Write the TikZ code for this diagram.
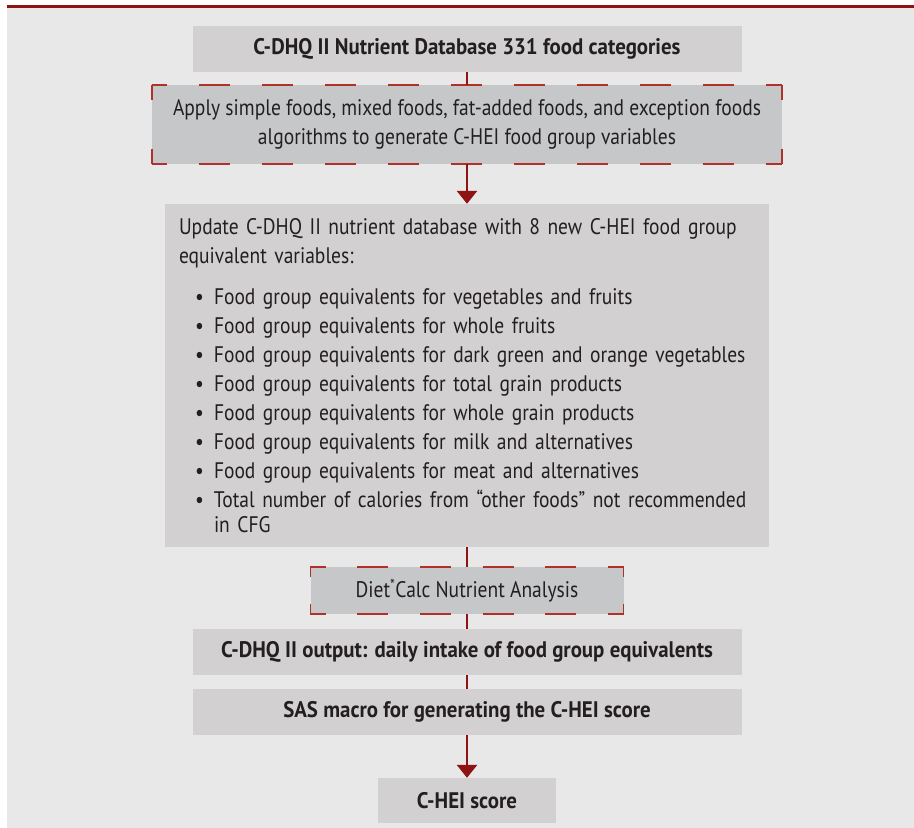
\documentclass[tikz,border=0pt]{standalone}
\usepackage{fontspec}
\setmainfont{PT Sans}[FakeStretch=0.867,BoldFeatures={FakeStretch=0.928}]
\usetikzlibrary{arrows.meta}
\definecolor{pagegrey}{HTML}{E7E8E7}
\definecolor{boxgrey}{HTML}{D3D0D1}
\definecolor{stepgrey}{HTML}{C6C7C9}
\definecolor{darkred}{HTML}{8E1414}
\definecolor{dashred}{HTML}{B0302A}
\definecolor{inkgrey}{HTML}{231F20}
\begin{document}
\begin{tikzpicture}[x=1pt,y=-1pt,
		plainbox/.style={fill=boxgrey,text=inkgrey,inner sep=0pt,align=center,
			font=\fontsize{22.5}{29}\selectfont},
		stepbox/.style={plainbox,fill=stepgrey},
		hdash/.style={draw=dashred,line width=1.5pt,dash pattern=on 31pt off #1,dash phase=15.5pt},
		vdash/.style={draw=dashred,line width=1.5pt,dash pattern=on #1},
		link/.style={draw=darkred,line width=2.8pt},
		arrowlink/.style={link,-{Triangle[width=20pt,length=13pt]}}]
	\useasboundingbox (0,0) rectangle (914,828);
	\fill[pagegrey] (7,7) rectangle (914,828);
	\draw[darkred,line width=3pt] (7,6) -- (914,6);
	\node[plainbox,minimum width=549pt,minimum height=46pt] (db) at (467,49)
		{\bfseries C-DHQ II Nutrient Database 331 food categories};
	\node[stepbox,minimum width=630pt,minimum height=79pt] (algo) at (467,124.5)
		{Apply simple foods, mixed foods, fat-added foods, and exception foods\\
		algorithms to generate C-HEI food group variables};
	\node[plainbox,minimum width=604pt,minimum height=343pt,text width=576pt,align=left] (upd) at (467,375.5)
		{Update C-DHQ II nutrient database with 8 new C-HEI food group\\
		equivalent variables:\\[12pt]
		\hspace*{16pt}\makebox[19pt][l]{\textbullet}Food group equivalents for vegetables and fruits\\
		\hspace*{16pt}\makebox[19pt][l]{\textbullet}Food group equivalents for whole fruits\\
		\hspace*{16pt}\makebox[19pt][l]{\textbullet}Food group equivalents for dark green and orange vegetables\\
		\hspace*{16pt}\makebox[19pt][l]{\textbullet}Food group equivalents for total grain products\\
		\hspace*{16pt}\makebox[19pt][l]{\textbullet}Food group equivalents for whole grain products\\
		\hspace*{16pt}\makebox[19pt][l]{\textbullet}Food group equivalents for milk and alternatives\\
		\hspace*{16pt}\makebox[19pt][l]{\textbullet}Food group equivalents for meat and alternatives\\
		\hspace*{16pt}\makebox[19pt][l]{\textbullet}Total number of calories from “other foods” not recommended\\[-4pt]
		\hspace*{35pt}in CFG};
	\node[stepbox,minimum width=313pt,minimum height=47pt] (calc) at (467,590.5)
		{Diet\textsuperscript{*}Calc Nutrient Analysis};
	\node[plainbox,minimum width=549pt,minimum height=46pt] (out) at (467,652)
		{\bfseries C-DHQ II output: daily intake of food group equivalents};
	\node[plainbox,minimum width=549pt,minimum height=46pt] (sas) at (467,712)
		{\bfseries SAS macro for generating the C-HEI score};
	\node[plainbox,minimum width=178pt,minimum height=45pt] (score) at (467,800.5)
		{\bfseries C-HEI score};
	% dashed frames, one side at a time
	\path[hdash=32pt] (algo.north west) -- (algo.north east) (algo.south west) -- (algo.south east);
	\path[vdash=30pt off 49pt,dash phase=15pt] (algo.north west) -- (algo.south west) (algo.north east) -- (algo.south east);
	\path[hdash=31.6pt] (calc.north west) -- (calc.north east) (calc.south west) -- (calc.south east);
	\path[vdash=20pt off 27pt,dash phase=10pt] (calc.north west) -- (calc.south west) (calc.north east) -- (calc.south east);
	\draw[link] (db) -- (algo);
	\draw[arrowlink] (algo) -- (upd);
	\draw[link] (upd) -- (calc);
	\draw[link] (calc) -- (out);
	\draw[link] (out) -- (sas);
	\draw[arrowlink] (sas) -- (score);
\end{tikzpicture}
\end{document}
